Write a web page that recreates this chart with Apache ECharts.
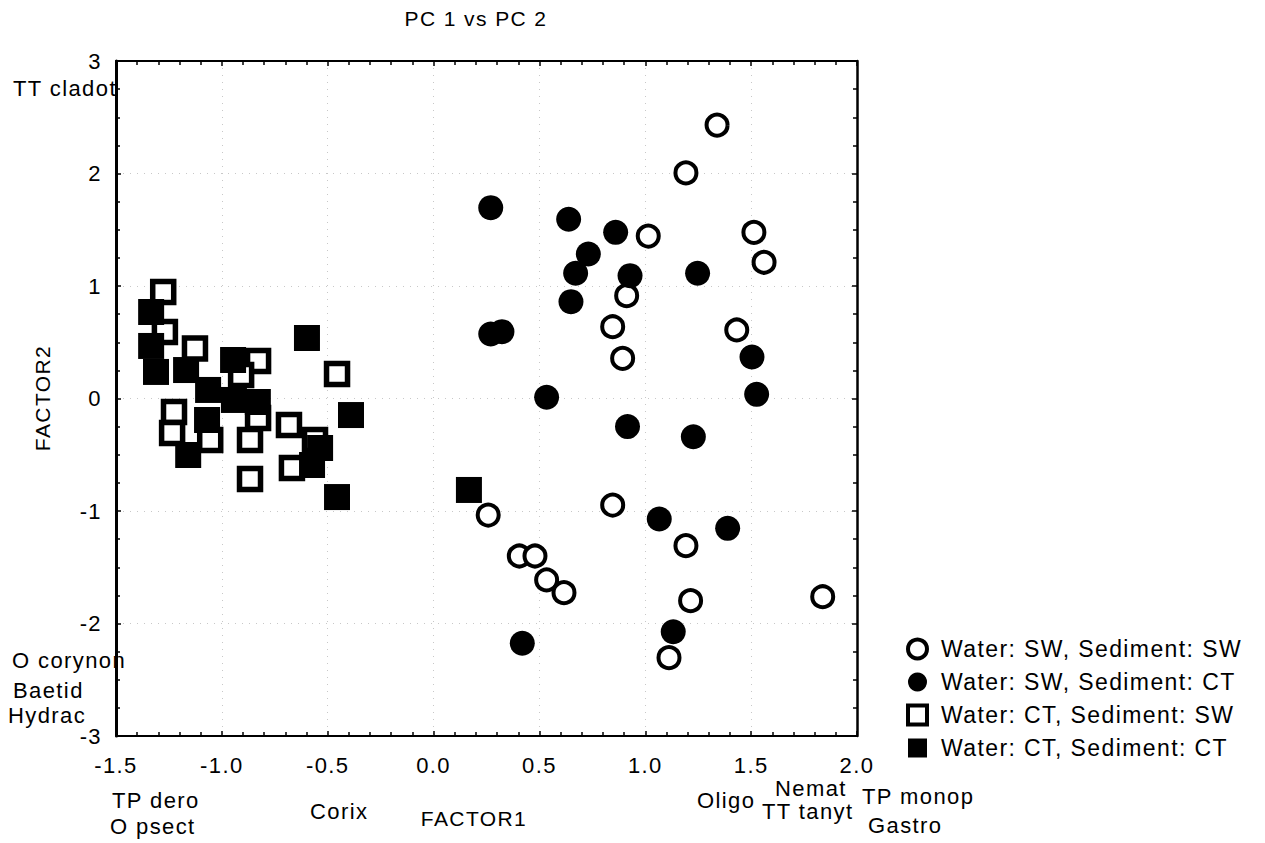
<!DOCTYPE html>
<html>
<head>
<meta charset="utf-8">
<script src="https://cdn.jsdelivr.net/npm/echarts@6/dist/echarts.min.js"></script>
<style>
  html, body { margin: 0; padding: 0; background: #fff; }
  #chart { width: 1265px; height: 843px; }
  #chart text { letter-spacing: 1.4px; }
</style>
</head>
<body>
<div id="chart"></div>
<script>
// PCA scores, FACTOR1 vs FACTOR2, by water / sediment treatment
const seriesNames = [
  'Water: SW, Sediment: SW',
  'Water: SW, Sediment: CT',
  'Water: CT, Sediment: SW',
  'Water: CT, Sediment: CT'
];

const swSw = [
  [1.339, 2.43], [1.192, 2.005], [1.014, 1.444], [1.513, 1.477], [1.561, 1.211],
  [0.912, 0.914], [0.846, 0.638], [0.893, 0.357], [1.432, 0.609], [0.258, -1.036],
  [0.846, -0.947], [0.405, -1.40], [0.479, -1.40], [0.534, -1.613], [0.616, -1.726],
  [1.192, -1.308], [1.214, -1.797], [1.112, -2.304], [1.838, -1.762]
];

const swCt = [
  [0.270, 1.696], [0.638, 1.593], [0.860, 1.477], [0.731, 1.284], [0.671, 1.113],
  [0.928, 1.092], [0.649, 0.861], [0.270, 0.573], [0.323, 0.594], [1.247, 1.113],
  [1.504, 0.369], [1.526, 0.037], [0.534, 0.011], [0.916, -0.25], [1.227, -0.34],
  [1.066, -1.071], [1.389, -1.154], [1.132, -2.073], [0.419, -2.176]
];

const ctSw = [
  [-1.277, 0.947], [-1.269, 0.591], [-1.127, 0.444], [-0.829, 0.333], [-0.909, 0.209],
  [-1.226, -0.12], [-1.235, -0.307], [-1.055, -0.369], [-0.867, -0.369], [-0.683, -0.236],
  [-0.669, -0.618], [-0.867, -0.716], [-0.560, -0.369], [-0.456, 0.218], [-0.829, -0.173]
];

const ctCt = [
  [0.167, -0.813], [-0.598, 0.538], [-0.390, -0.147], [-0.456, -0.876], [-1.334, 0.769],
  [-1.334, 0.467], [-1.311, 0.236], [-1.159, -0.502], [-0.536, -0.44], [-0.574, -0.591],
  [-1.169, 0.253], [-0.947, 0.342], [-1.065, 0.076], [-0.943, -0.013], [-0.830, -0.031],
  [-1.070, -0.191]
];

// axis ranges and tick steps
const xRange = [-1.5, 2.0];
const xStep = 0.5;
const yRange = [-3, 3];
const yStep = 1;

const titleText = 'PC 1 vs PC 2';
const xName = 'FACTOR1';
const yName = 'FACTOR2';

// variable names placed around the frame
const varLabels = [
  { text: 'TT cladot', x: 13, y: 88 },
  { text: 'O corynon', x: 12, y: 660 },
  { text: 'Baetid', x: 13, y: 690 },
  { text: 'Hydrac', x: 8, y: 715 },
  { text: 'TP dero', x: 112, y: 800 },
  { text: 'O psect', x: 110, y: 826 },
  { text: 'Corix', x: 310, y: 811 },
  { text: 'Oligo', x: 697, y: 800 },
  { text: 'Nemat', x: 775, y: 788 },
  { text: 'TT tanyt', x: 762, y: 811 },
  { text: 'TP monop', x: 862, y: 796 },
  { text: 'Gastro', x: 868, y: 825 }
];

const FONT = '"Liberation Sans", Arial, Helvetica, sans-serif';
const FS = 22;

const chart = echarts.init(document.getElementById('chart'), null, { renderer: 'svg' });

const frameAxis = (extra) => Object.assign({
  type: 'value',
  axisLine: { show: true, onZero: false, lineStyle: { color: '#000', width: 2 } },
  axisTick: { show: true, inside: true, length: 5, lineStyle: { color: '#000', width: 1.5 } },
  minorTick: { show: true, length: 4, lineStyle: { color: '#000', width: 1.5 } },
  splitLine: { show: false },
  axisLabel: { show: false }
}, extra);

const openStyle = { color: '#fff', borderColor: '#000', borderWidth: 4, opacity: 1 };
const fillStyle = { color: '#000', borderColor: '#000', borderWidth: 0, opacity: 1 };
const openSquare = { color: '#fff', borderColor: '#000', borderWidth: 5.5, opacity: 1 };

const gridLine = { show: true, lineStyle: { color: '#c8c8c8', width: 1, type: [1, 6] } };

const graphics = [
  {
    type: 'text', x: 476, y: 18,
    style: { text: titleText, font: `${FS - 1}px ${FONT}`, fill: '#000', textAlign: 'center', textVerticalAlign: 'middle' }
  },
  {
    type: 'text', x: 474, y: 818,
    style: { text: xName, font: `${FS - 1}px ${FONT}`, fill: '#000', textAlign: 'center', textVerticalAlign: 'middle' }
  },
  {
    type: 'text', x: 42, y: 398, rotation: Math.PI / 2,
    style: { text: yName, font: `${FS - 1}px ${FONT}`, fill: '#000', textAlign: 'center', textVerticalAlign: 'middle' }
  }
].concat(varLabels.map(v => ({
  type: 'text', x: v.x, y: v.y,
  style: { text: v.text, font: `${FS}px ${FONT}`, fill: '#000', textAlign: 'left', textVerticalAlign: 'middle' }
})));

chart.setOption({
  animation: false,
  backgroundColor: '#fff',
  grid: { left: 116, top: 61, right: 408, bottom: 107, containLabel: false },
  xAxis: [
    frameAxis({
      position: 'bottom',
      min: xRange[0], max: xRange[1], interval: xStep,
      minorTick: { show: true, splitNumber: 5, length: 4, lineStyle: { color: '#000', width: 1.5 } },
      splitLine: gridLine,
      axisLabel: {
        show: true, margin: 18, color: '#000', fontSize: FS, fontFamily: FONT,
        formatter: v => v.toFixed(1)
      }
    }),
    frameAxis({
      position: 'top',
      min: xRange[0], max: xRange[1], interval: xStep,
      minorTick: { show: true, splitNumber: 5, length: 4, lineStyle: { color: '#000', width: 1.5 } }
    })
  ],
  yAxis: [
    frameAxis({
      position: 'left',
      min: yRange[0], max: yRange[1], interval: yStep,
      axisLine: { show: true, onZero: false, lineStyle: { color: '#000', width: 3 } },
      minorTick: { show: true, splitNumber: 4, length: 4, lineStyle: { color: '#000', width: 1.5 } },
      splitLine: gridLine,
      axisLabel: {
        show: true, margin: 14, color: '#000', fontSize: FS, fontFamily: FONT,
        formatter: v => String(Math.round(v))
      }
    }),
    frameAxis({
      position: 'right',
      min: yRange[0], max: yRange[1], interval: yStep,
      axisLine: { show: true, onZero: false, lineStyle: { color: '#000', width: 2.5 } },
      minorTick: { show: true, splitNumber: 4, length: 4, lineStyle: { color: '#000', width: 1.5 } }
    })
  ],
  legend: {
    orient: 'vertical',
    left: 901,
    top: 632,
    itemWidth: 19,
    itemHeight: 19,
    itemGap: 9,
    textStyle: { color: '#000', fontSize: FS + 1, fontFamily: FONT, lineHeight: 24, padding: [0, 0, 0, 9] },
    data: [
      { name: seriesNames[0], icon: 'circle', itemStyle: { color: '#fff', borderColor: '#000', borderWidth: 4 } },
      { name: seriesNames[1], icon: 'circle', itemStyle: { color: '#000', borderWidth: 0 } },
      { name: seriesNames[2], icon: 'rect', itemStyle: { color: '#fff', borderColor: '#000', borderWidth: 4 } },
      { name: seriesNames[3], icon: 'rect', itemStyle: { color: '#000', borderWidth: 0 } }
    ]
  },
  series: [
    { name: seriesNames[0], type: 'scatter', data: swSw, symbol: 'circle', symbolSize: 21, itemStyle: openStyle },
    { name: seriesNames[1], type: 'scatter', data: swCt, symbol: 'circle', symbolSize: 25, itemStyle: fillStyle },
    { name: seriesNames[2], type: 'scatter', data: ctSw, symbol: 'rect', symbolSize: 21, itemStyle: openSquare },
    { name: seriesNames[3], type: 'scatter', data: ctCt, symbol: 'rect', symbolSize: 26, itemStyle: fillStyle }
  ],
  graphic: graphics
});
</script>
</body>
</html>
